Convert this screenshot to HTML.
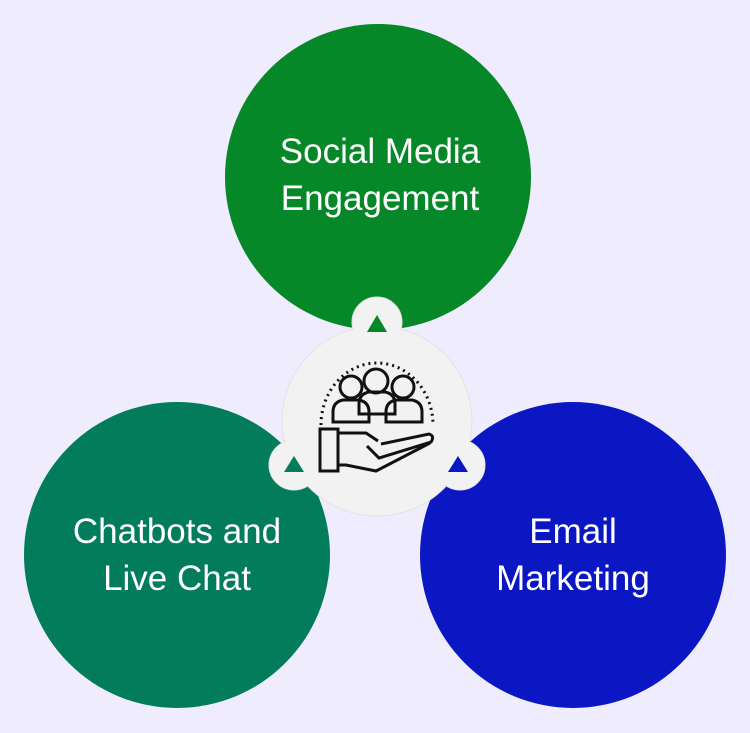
<!DOCTYPE html>
<html><head><style>
html,body{margin:0;padding:0;background:#efedfd;}
svg{display:block}
text{font-family:"Liberation Sans",sans-serif;font-size:35px;fill:#fff;text-anchor:middle}
</style></head><body>
<svg width="750" height="733" viewBox="0 0 750 733">
<rect width="750" height="733" fill="#efedfd"/>
<circle cx="378" cy="177" r="153" fill="#068829"/>
<circle cx="177" cy="555" r="153" fill="#027c5a"/>
<circle cx="573" cy="555" r="153" fill="#0a17c3"/>
<text x="380" y="163">Social Media</text>
<text x="380" y="210">Engagement</text>
<text x="177" y="543">Chatbots and</text>
<text x="177" y="590">Live Chat</text>
<text x="573" y="543">Email</text>
<text x="573" y="590">Marketing</text>
<g fill="#f2f2f2" stroke="#e2e2e2" stroke-width="1">
<circle cx="377" cy="421" r="95"/>
<circle cx="377" cy="322" r="25"/>
<circle cx="294" cy="465" r="25"/>
<circle cx="460" cy="465" r="25"/>
</g>
<circle cx="377" cy="421" r="94" fill="#f2f2f2"/>
<polygon points="377,315 367,332 387,332" fill="#068829"/>
<polygon points="294,456 284,472 304,472" fill="#027c5a"/>
<polygon points="458,456 448,472 468,472" fill="#0a17c3"/>
<g fill="none" stroke="#111" stroke-width="3">
<path d="M321,425 A56,62 0 0 1 433,425" stroke-dasharray="2,4"/>
<circle cx="351" cy="387" r="11"/>
<circle cx="376" cy="381" r="12"/>
<circle cx="403" cy="387" r="11"/>
<path d="M333,422 v-10 q0,-10 10,-12 h16 q10,2 10,12 v10 z"/>
<path d="M359,414 v-10 q0,-10 10,-12 h16 q10,2 10,12 v10 z"/>
<path d="M386,422 v-10 q0,-10 10,-12 h16 q10,2 10,12 v10 z"/>
<rect x="320" y="429" width="18" height="42"/>
<path d="M338,433 h28 l12,8 M367,446 l12,12 l52,-16 q4,-6 -2,-8 l-48,10 M338,465 h8 l30,6 l54,-28"/>
</g>
</svg>
</body></html>
